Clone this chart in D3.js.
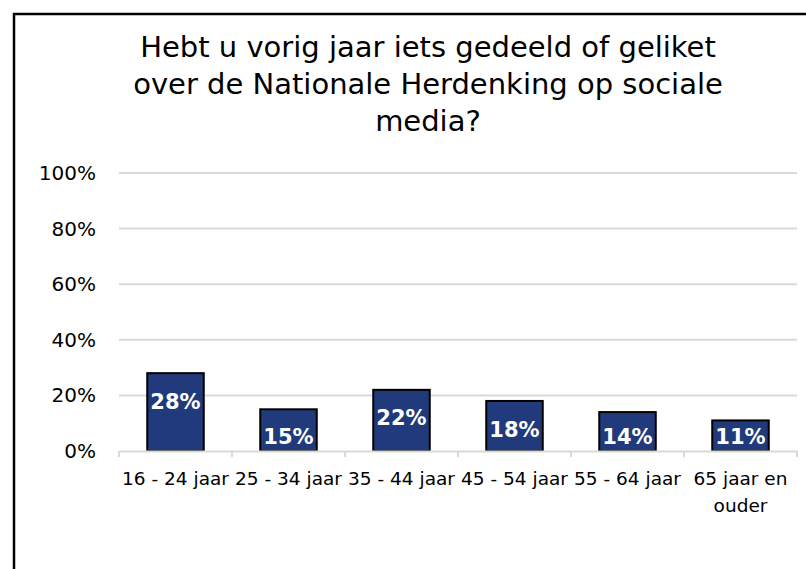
<!DOCTYPE html>
<html><head><meta charset="utf-8">
<script src="https://cdn.jsdelivr.net/npm/d3@7"></script>
<style>html,body{margin:0;padding:0;background:#fff;} svg{display:block;}</style>
</head><body>
<svg id="c" width="806" height="569"></svg>
<script>
const categories = ["16 - 24 jaar","25 - 34 jaar","35 - 44 jaar","45 - 54 jaar","55 - 64 jaar","65 jaar en ouder"];
const values = [28, 15, 22, 18, 14, 11];
const yTicks = [0, 20, 40, 60, 80, 100];
const titleLines = ["Hebt u vorig jaar iets gedeeld of geliket","over de Nationale Herdenking op sociale","media?"];

const FONT = "'Century Gothic','URW Gothic','DejaVu Sans',sans-serif";
const svg = d3.select("#c");
svg.append("rect").attr("x",0).attr("y",0).attr("width",806).attr("height",569).attr("fill","#fff");
// frame
svg.append("path").attr("d","M14,575 L14,14 L812,14").attr("fill","none").attr("stroke","#000").attr("stroke-width",2.5);

const m = {left:119, right:797, top:173, bottom:451};
const x = d3.scaleBand().domain(categories).range([m.left, m.right]).paddingInner(0.5).paddingOuter(0.25);
const y = d3.scaleLinear().domain([0,100]).range([m.bottom, m.top]);

// title
const title = svg.append("text").attr("x",428).attr("y",57).attr("text-anchor","middle")
  .style("font-family",FONT).style("font-size","29px").attr("fill","#000");
title.selectAll("tspan").data(titleLines).join("tspan")
  .attr("x",428).attr("dy",(d,i)=>i===0?0:37).text(d=>d);

// grid
svg.append("g").selectAll("line").data(yTicks.filter(d=>d>0)).join("line")
  .attr("x1",m.left).attr("x2",m.right).attr("y1",d=>y(d)).attr("y2",d=>y(d))
  .attr("stroke","#d9d9d9").attr("stroke-width",2);

// y axis labels
const yAxis = svg.append("g").attr("transform",`translate(${m.left},0)`)
  .call(d3.axisLeft(y).tickValues(yTicks).tickFormat(d=>d+"%").tickSize(0).tickPadding(23));
yAxis.select(".domain").remove();
yAxis.selectAll("text").style("font-family",FONT).style("font-size","20px").attr("fill","#000");

// bars
svg.append("g").selectAll("rect").data(values).join("rect")
  .attr("x",(d,i)=>x(categories[i])).attr("width",x.bandwidth())
  .attr("y",d=>y(d)).attr("height",d=>y(0)-y(d))
  .attr("fill","#203a7c").attr("stroke","#000").attr("stroke-width",2);

// x axis
const xAxis = svg.append("g").attr("transform",`translate(0,${m.bottom})`)
  .call(d3.axisBottom(x).tickSize(0).tickPadding(21));
xAxis.select(".domain").attr("stroke","#d9d9d9").attr("stroke-width",2);
xAxis.selectAll("text").style("font-family",FONT).style("font-size","18.5px").attr("fill","#000");
// boundary ticks
const bounds = d3.range(categories.length+1).map(i=>m.left + i*x.step());
xAxis.append("g").selectAll("line").data(bounds).join("line")
  .attr("x1",d=>d).attr("x2",d=>d).attr("y1",0).attr("y2",6)
  .attr("stroke","#d9d9d9").attr("stroke-width",2);

// wrap long labels
xAxis.selectAll(".tick text").each(function(d){
  const t = d3.select(this);
  const words = d.split(" ");
  t.text(null);
  let line = [];
  let ts = t.append("tspan").attr("x",0).attr("dy","0.71em");
  for (const w of words){
    line.push(w); ts.text(line.join(" "));
    if (ts.node().getComputedTextLength() > 122 && line.length>1){
      line.pop(); ts.text(line.join(" "));
      line=[w];
      ts = t.append("tspan").attr("x",0).attr("dy","1.45em").text(w);
    }
  }
});

// data labels
svg.append("g").selectAll("text").data(values).join("text")
  .attr("x",(d,i)=>x(categories[i])+x.bandwidth()/2)
  .attr("y",d=>Math.min(y(d)+28, y(0)-15))
  .attr("dy","0.36em").attr("text-anchor","middle")
  .style("font-family",FONT).style("font-size","21px").style("font-weight","bold")
  .attr("fill","#fff").text(d=>d+"%");
</script>
</body></html>
